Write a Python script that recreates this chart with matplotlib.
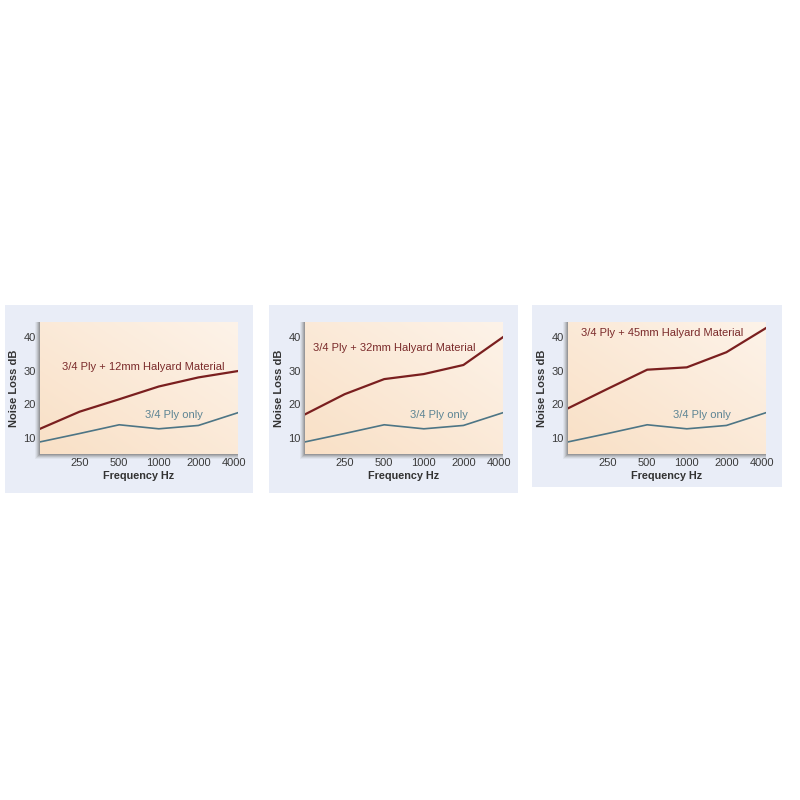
import numpy as np
import matplotlib.pyplot as plt
from matplotlib.patches import Rectangle
from matplotlib.transforms import ScaledTranslation

plt.rcParams['font.family'] = ['Liberation Sans', 'DejaVu Sans']

freqs = ['125', '250', '500', '1000', '2000', '4000']
ply_only = [8.8, 11.3, 13.9, 12.7, 13.7, 17.5]
halyard_12 = [12.7, 17.8, 21.5, 25.3, 28.0, 29.9]
halyard_32 = [17.0, 23.0, 27.5, 29.0, 31.7, 40.0]
halyard_45 = [18.8, 24.6, 30.3, 31.0, 35.5, 42.7]
labels = ['3/4 Ply + 12mm Halyard Material',
          '3/4 Ply + 32mm Halyard Material',
          '3/4 Ply + 45mm Halyard Material']
label_pos = [(0.11, 0.66), (0.04, 0.80), (0.065, 0.917)]

W = H = 800.0
fig = plt.figure(figsize=(8, 8), dpi=100)
fig.patch.set_facecolor('white')


def fig_rect(x0, y0, x1, y1):
    # pixel box (top-left origin) to figure fraction
    return [x0 / W, 1 - y1 / H, (x1 - x0) / W, (y1 - y0) / H]


panels = [(5, 305, 253, 493, 40), (269, 305, 518, 493, 305), (532, 305, 782, 487, 568)]
series = [halyard_12, halyard_32, halyard_45]

# peach gradient for the plot area
gx, gy = np.meshgrid(np.linspace(0, 1, 100), np.linspace(0, 1, 100))
t = np.clip(0.5 * gx + 0.5 * gy, 0, 1)[..., None]
c0 = np.array([249, 224, 198]) / 255.0
c1 = np.array([253, 243, 233]) / 255.0
grad = c0 * (1 - t) + c1 * t

for i, (bx0, by0, bx1, by1, ax0) in enumerate(panels):
    fig.patches.append(Rectangle(fig_rect(bx0, by0, bx1, by1)[:2],
                                 (bx1 - bx0) / W, (by1 - by0) / H,
                                 transform=fig.transFigure, facecolor='#e9edf7',
                                 edgecolor='none', zorder=0))
    ax1 = ax0 + 198
    # soft shadow along left and bottom of the plot box
    for k, a in [(5, 0.08), (4, 0.12), (3, 0.18), (2, 0.25), (1, 0.35)]:
        r = fig_rect(ax0 - k, 322, ax1, 454 + k)
        fig.patches.append(Rectangle(r[:2], r[2], r[3], transform=fig.transFigure,
                                     facecolor='#707070', alpha=a, edgecolor='none', zorder=1))
    ax = fig.add_axes(fig_rect(ax0, 322, ax1, 454))
    ax.set_zorder(2)
    ax.imshow(grad, extent=[0, 5, 5.2, 44.5], origin='lower', aspect='auto', zorder=0)
    x = np.arange(len(freqs))
    ax.plot(x, ply_only, color='#4d7585', lw=1.2, zorder=2)
    ax.plot(x, series[i], color='#7a1f1f', lw=1.6, zorder=3)
    ax.set_xlim(0, 5)
    ax.set_ylim(5.2, 44.5)
    ax.set_xticks(x[1:])
    ax.set_xticklabels(freqs[1:])
    ax.set_yticks([10, 20, 30, 40])
    ax.tick_params(length=0, labelsize=8, colors='#3a3a3a', pad=3)
    for s in ax.spines.values():
        s.set_visible(False)
    # last tick label sits a little left of the edge
    last = ax.xaxis.get_major_ticks()[-1].label1
    last.set_transform(last.get_transform() + ScaledTranslation(-3 / 72, 0, fig.dpi_scale_trans))
    ax.set_xlabel('Frequency Hz', fontsize=7.8, fontweight='bold', color='#333333', labelpad=2)
    ax.set_ylabel('Noise Loss dB', fontsize=8, fontweight='bold', color='#333333', labelpad=3)
    ax.text(label_pos[i][0], label_pos[i][1], labels[i], transform=ax.transAxes,
            fontsize=8, color='#7a2a2a', va='center', ha='left')
    ax.text(0.53, 0.295, '3/4 Ply only', transform=ax.transAxes,
            fontsize=8, color='#5c8494', va='center', ha='left')

fig.savefig('out.png', dpi=100, facecolor='white')
